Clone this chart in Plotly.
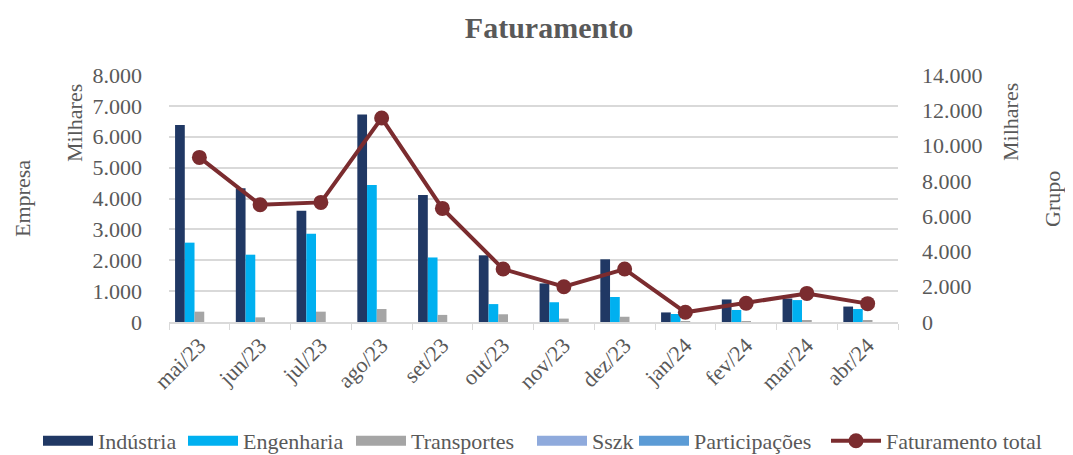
import plotly.graph_objects as go

meses = ["mai/23", "jun/23", "jul/23", "ago/23", "set/23", "out/23",
         "nov/23", "dez/23", "jan/24", "fev/24", "mar/24", "abr/24"]

# valores em milhares
industria = [6380, 4330, 3600, 6720, 4110, 2160, 1250, 2030, 310, 730, 760, 500]
engenharia = [2570, 2180, 2860, 4440, 2090, 580, 640, 810, 260, 390, 710, 420]
transportes = [335, 150, 335, 420, 230, 250, 110, 170, 20, 30, 60, 60]
sszk = [0, 0, 0, 0, 0, 0, 0, 0, 0, 0, 0, 0]
participacoes = [0, 0, 0, 0, 0, 0, 0, 0, 0, 0, 0, 0]
faturamento_total = [9330, 6650, 6780, 11560, 6440, 3000, 2000, 3000, 550, 1060, 1620, 1040]

FONT = "Liberation Serif"
GREY = "#595959"

# the page body has an 8px margin, so the figure is drawn 8px in and down;
OFF = 8
W, H = 1073 - OFF, 455 - OFF
L, T = 169 - OFF, 75 - OFF
R, B = W - (898 - OFF), H - (322 - OFF)
PW, PH = W - L - R, H - T - B


def paper_x(px):
    return (px - OFF - L) / PW


def paper_y(py):
    return 1 - (py - OFF - T) / PH


fig = go.Figure()

bar_series = [
    ("Indústria", industria, "#203864"),
    ("Engenharia", engenharia, "#00B0F0"),
    ("Transportes", transportes, "#A5A5A5"),
    ("Sszk", sszk, "#8FAADC"),
    ("Participações", participacoes, "#5B9BD5"),
]
# x of each legend key in the reference
legend_x = [38, 183, 351, 532, 634, 826]
legend_ids = ["legend"] + ["legend%d" % i for i in range(2, 7)]

for (name, vals, color), leg in zip(bar_series, legend_ids):
    fig.add_trace(go.Bar(x=meses, y=vals, name=name, marker_color=color,
                         marker_line_width=0, showlegend=False))
    # wide rectangle legend key, like the Excel legend
    fig.add_trace(go.Scatter(x=[None], y=[None], name=name, mode="lines",
                             line=dict(color=color, width=10), legend=leg))

fig.add_trace(go.Scatter(
    x=meses, y=faturamento_total, name="Faturamento total", yaxis="y2",
    mode="lines+markers", line=dict(color="#7B2C2F", width=4),
    marker=dict(size=15, color="#7B2C2F"), legend=legend_ids[-1],
))

legends = {}
for leg, lx in zip(legend_ids, legend_x):
    legends[leg] = dict(orientation="h", x=paper_x(lx), xanchor="left",
                        y=paper_y(441), yanchor="middle", font=dict(size=22),
                        itemwidth=50, bgcolor="rgba(0,0,0,0)")

fig.update_layout(
    width=W, height=H,
    margin=dict(l=L, r=R, t=T, b=B, autoexpand=False),
    paper_bgcolor="white", plot_bgcolor="white",
    font=dict(family=FONT, size=22, color=GREY),
    title=dict(text="<b>Faturamento</b>", x=(549 - OFF) / W, xanchor="center",
               y=1 - (27 - OFF) / H, yanchor="middle", yref="container",
               font=dict(size=30, color=GREY)),
    barmode="group", bargap=0.2, bargroupgap=0,
    xaxis=dict(range=[-0.5, len(meses) - 0.5], tickangle=-45, ticks="outside",
               tickson="boundaries", ticklen=6, tickcolor="#d9d9d9",
               showline=True, linecolor="#d9d9d9", linewidth=1.5,
               showgrid=False, automargin=False),
    yaxis=dict(range=[0, 8000], dtick=1000, tickformat=",.0f",
               gridcolor="#d9d9d9", gridwidth=1.5, zeroline=False,
               automargin=False, ticklabelstandoff=26),
    yaxis2=dict(range=[0, 14000], dtick=2000, tickformat=",.0f",
                overlaying="y", side="right", showgrid=False, zeroline=False,
                automargin=False, ticklabelstandoff=23),
    separators=",.",
    **legends,
)

labels = [
    ("Milhares", 74, 123),
    ("Empresa", 22, 199),
    ("Milhares", 1010, 122),
    ("Grupo", 1052, 199),
]
for text, px_x, py_y in labels:
    fig.add_annotation(text=text, textangle=-90, showarrow=False,
                       xref="paper", yref="paper",
                       x=paper_x(px_x), y=paper_y(py_y),
                       xanchor="center", yanchor="middle",
                       font=dict(size=22, color=GREY, family=FONT))

fig.write_html("out.html")
